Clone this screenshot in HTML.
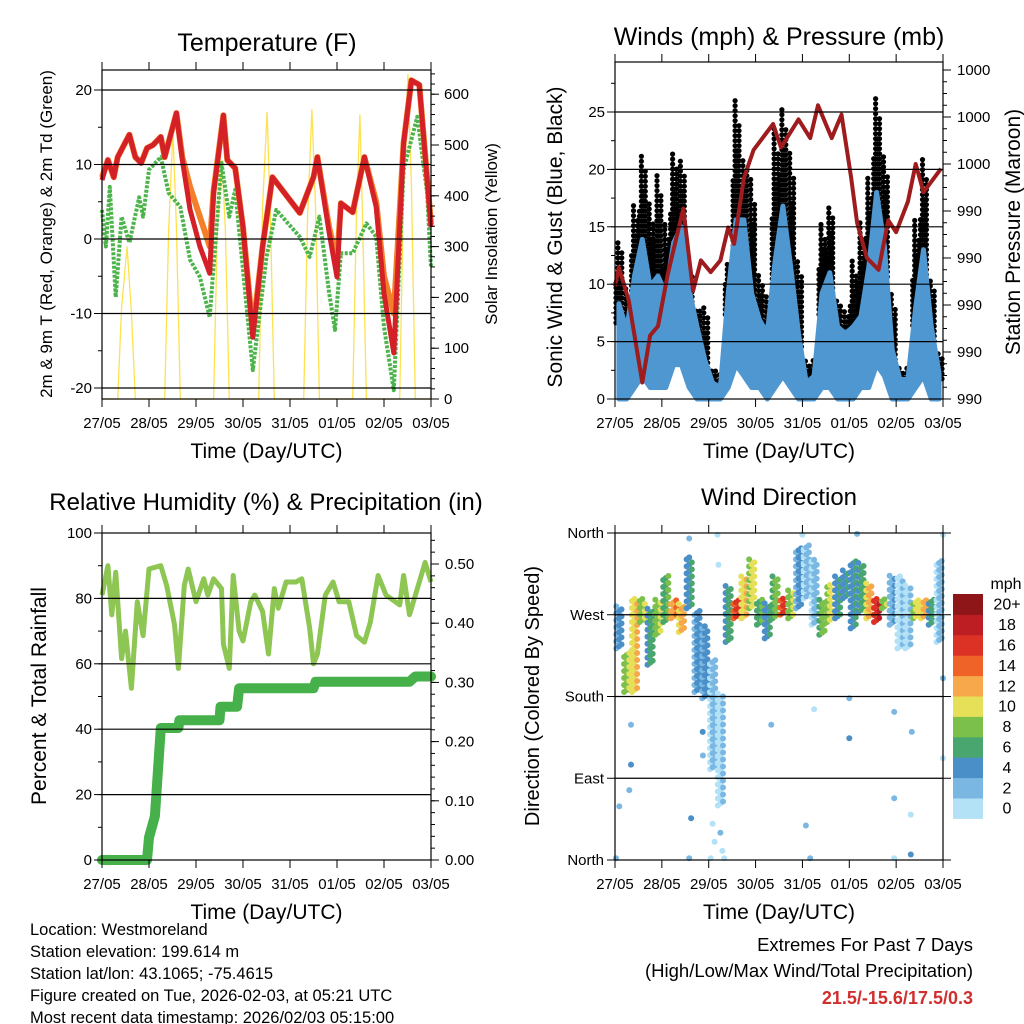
<!DOCTYPE html>
<html><head><meta charset="utf-8">
<style>
html,body{margin:0;padding:0;background:#fff;}
svg{display:block;font-family:"Liberation Sans",sans-serif;}
</style></head>
<body>
<svg id="chart" width="1024" height="1024" viewBox="0 0 1024 1024"></svg>
<script>
// ---------- DATA ----------
const dayLabels = ["27/05","28/05","29/05","30/05","31/05","01/05","02/05","03/05"];
// Temperature panel
const tHours = [0,3,6,8,14,17,20,23,26,30,32,38,41,45,50,55,57,62,64,68,72,77,82,87,101,108,110,116,120,122,128,134,140,144,149,154,158,162,168];
const tRed   = [7.9,10.6,8.3,11,14,11,10.2,12.2,12.6,13.7,11,16.9,10.6,3.9,-1,-4.6,6.2,16.6,10.6,9.5,1.6,-13.2,-1,8.3,3.5,8.3,11,0.8,-5.1,4.8,3.6,11,4.3,-7.3,-15.3,12.9,21.3,20.7,1.6];
const tOrange= [8.3,10.6,8.3,11,14,11,10.2,12.2,12.6,13.7,11,16.9,11,7,3,-1,6.5,16.6,10.6,9.5,1.6,-12.5,-1,8.3,3.5,8.3,11,1.5,-3,4.8,3.6,11,5,-5,-10,12.9,21.3,20.7,2];
const tdHours = [0,2,4,7,10,14,19,21,24,30,34,40,45,50,55,61,65,68,74,77,84,89,95,101,106,111,116,119,122,128,135,140,144,149,154,161,166,168];
const tdVals  = [3.9,-1,7,-7.8,3,-0.5,5.6,3,9.3,11,6.2,4.3,-2.8,-5.1,-10.5,10.2,3,6.6,-9.5,-17.6,-2.4,3.9,2.1,0.3,-2.4,3,-7.3,-12.2,-1.9,-1.9,2.1,0.3,-11.8,-20.3,9.3,16.4,6.2,-3.8];
const solarHours = [0,8,10,12.8,15,17,32,34,36.2,38,40,57,59,61.3,63,65,80,82,84.3,86,88,103,105,107.2,109,111,128,130,131.7,133,135,152,154,156.2,158,160,168];
const solarVals  = [0,0,180,300,170,0,0,330,527,340,0,0,350,470,330,0,0,380,565,360,0,0,360,570,380,0,0,380,560,360,0,0,420,640,420,0,0];
const tLeftTicks = [-20,-10,0,10,20];
const tRightTicks = [0,100,200,300,400,500,600];
// Winds panel (4-hour bins)
const windLo  = [0,0,1,2,1,1,1,3,3,1,0,0,0,0,1,3,2,1,1,0,1,2,1,0,0,0,1,1,0,0,0,1,1,3,2,0,0,0,1,2,0,0];
const windHi  = [8.3,6,10.7,13.9,9.8,10.7,9.2,13.6,15,9.5,6.3,3.4,1.4,1,9.2,15.6,15.6,9.2,6.9,5.7,12,16.8,11.5,5.7,1.4,2,9.2,11,6.3,5.7,6.3,7.2,11.5,18,13.3,4.3,1.7,1.7,8,13,6.3,2.2];
const gustMax = [13.9,9.8,17,21.4,17,19.7,15.6,21.7,20.8,11,8,8,2.8,2.5,12,26,21,19.4,11,9.2,23.7,25.2,21.4,12.1,3.4,3.4,15.6,17,8.6,8,12.1,15.6,19.4,26.4,21.4,9.2,2.8,2.8,15.6,21,10.7,4];
const presHours = [0,2,7,12,14,18,22,27,35,40,44,49,54,58,61,66,71,81,85,94,100,104,111,116,121,124,129,135,140,144,150,154,158,167];
const presVals  = [992.8,993.6,992.2,989.7,988.7,990.7,991.1,993.3,996.1,992.6,993.9,993.4,993.9,995.3,994.6,997.4,998.6,999.7,998.7,999.9,999.1,1000.5,999.1,1000.1,997.4,995.5,994.0,993.5,995.6,995.1,996.4,998.0,996.8,997.8];
const windLeftTicks = [0,5,10,15,20,25];
const presTickLabels = ["990","990","990","990","990","1000","1000","1000"];
// RH panel
const rhHours = [0,3,5,7,10,12,15,18,21,24,30,33,37,39,42,44,48,52,54,57,61,62,65,67,70,72,76,78,82,85,88,90,94,99,102,106,108,110,114,118,121,126,130,134,137,141,145,152,154,157,162,165,168];
const rhVals  = [81,90,75,88,61.6,70,52.5,79,68.6,89,90,84,72,58.6,84,89,79,86,81,86,83,66,58.6,87,70,67,79,81,76,63,83,77,85,85,86,71,60,63,81,85,79,79,68.6,66.6,72.7,87,81,78,87,75,85,91,85];
const rainHours = [0,23,24,27,30,39,39.5,60,60.5,69,70,108,109,157,160,168];
const rainVals  = [0,0,0.038,0.074,0.223,0.223,0.236,0.236,0.259,0.259,0.29,0.29,0.301,0.301,0.31,0.31];
const rhTicks = [0,20,40,60,80,100];
const rainTicks = [0,0.1,0.2,0.3,0.4,0.5];
// Wind direction panel (4-hour bins)
const dirLo = [233,185,185,262,215,248,262,266,251,277,185,178,100,60,240,266,266,277,259,244,266,270,266,277,288,259,248,262,266,288,255,273,266,262,277,259,233,233,266,266,259,240];
const dirHi = [281,229,288,288,277,288,314,288,284,335,277,259,222,185,303,288,314,332,288,284,314,288,299,346,349,332,288,303,314,321,332,328,306,288,288,314,314,303,288,288,288,332];
const dirSpd = [3,8,10,8,5,8,6,12,11,4,3,3,1,0,5,15,10,9,6,4,7,15,8,3,1,1,7,9,4,4,4,5,11,16,8,2,0,0,9,11,5,1];
const outHours = [8.2,8.2,7.3,2.2,38,52.5,53,44.9,45,39,80,96,97.8,102,120,120,124,143,143,151.5,151.5,152,168,168,168,49,56,38,0.5,100,143,50,51,54,55];
const outDeg   = [149,105,77,59,354,358,325,141,115,46,149,358,38,166,134,178,359,163,68,6,50,141,112,358,200,2,2,2,2,2,2,40,20,30,10];
const outSpd   = [2,3,1,1,1,0,0,3,1,3,2,0,2,0,3,1,2,2,1,3,0,2,0,0,1,0,0,2,1,1,0,0,0,1,0];
const dirTickDeg = [0,90,180,270,360];
const dirTickLabels = ["North","East","South","West","North"];
const legendLabels = ["0","2","4","6","8","10","12","14","16","18","20+"];
const speedColors = ["#b3e2f7","#7ab8e3","#4a8fc8","#4aa66f","#7cc04c","#e6e058","#f6a84a","#ef6329","#dc3226","#bd1e24","#8e1618"];

// ---------- HELPERS ----------
const NS = 'http://www.w3.org/2000/svg';
const svg = document.getElementById('chart');
function mk(tag, attrs, parent){
  const e = document.createElementNS(NS, tag);
  for (const k in attrs) e.setAttribute(k, attrs[k]);
  (parent || svg).appendChild(e);
  return e;
}
function txt(x, y, s, size, anchor, parent, rot){
  const t = mk('text', {x:x, y:y, 'font-size':size, 'text-anchor':anchor||'middle', fill:'#000'}, parent);
  if (rot) t.setAttribute('transform', 'rotate(' + rot + ' ' + x + ' ' + y + ')');
  t.textContent = s;
  return t;
}
function colorFor(s){ let i = Math.round(s/2); if (i>10) i=10; if (i<0) i=0; return speedColors[i]; }
function pts(xs, ys, fx, fy){ return xs.map((h,i)=>fx(h).toFixed(1)+','+fy(ys[i]).toFixed(1)).join(' '); }

function frame(g, x0, y0, x1, y1, name){
  const r = mk('rect', {x:x0, y:y0, width:x1-x0, height:y1-y0, fill:'none', stroke:'#000', 'stroke-width':1.2}, g);
  
  
  for (let d=0; d<=7; d++){
    const x = x0 + d*(x1-x0)/7;
    const tb = mk('line', {x1:x, y1:y1, x2:x, y2:y1+8, stroke:'#000', 'stroke-width':1}, g);
    
    
    const tt = mk('line', {x1:x, y1:y0, x2:x, y2:y0-8, stroke:'#000', 'stroke-width':1}, g);
    
    
    const lb = txt(x, y1+29, dayLabels[d], 15, 'middle', g);
    
    
  }
  const xt = txt((x0+x1)/2, y1+59, 'Time (Day/UTC)', 21, 'middle', g);
  
  
}
function yTick(g, x, y, side, len){
  const l = mk('line', {x1:x, y1:y, x2:x + (side<0?-len:len), y2:y, stroke:'#000', 'stroke-width':1}, g);
  
  
}
function gridLine(g, x0, x1, y){
  const l = mk('line', {x1:x0, y1:y, x2:x1, y2:y, stroke:'#000', 'stroke-width':1.2}, g);
  
  
}

// ---------- PANEL 1: TEMPERATURE ----------
(function(){
  const x0=102,x1=431,y0=70,y1=399;
  const g = mk('g', {});
  
  
  const fx = h => x0 + h/168*(x1-x0);
  const fT = t => 90 + (20-t)*7.45;
  const fS = v => y1 - v*0.508;
  const sol = mk('polyline', {points:pts(solarHours, solarVals, fx, fS), fill:'none', stroke:'#fde24f', 'stroke-width':1.3}, g);
  
  
  const td = mk('polyline', {points:pts(tdHours, tdVals, fx, fT), fill:'none', stroke:'#4cb44a', 'stroke-width':4, 'stroke-dasharray':'3,1.5', 'stroke-linejoin':'round'}, g);
  
  
  const or = mk('polyline', {points:pts(tHours, tOrange, fx, fT), fill:'none', stroke:'#f47f2a', 'stroke-width':6, 'stroke-linejoin':'round'}, g);
  
  
  const rd = mk('polyline', {points:pts(tHours, tRed, fx, fT), fill:'none', stroke:'#d42027', 'stroke-width':5, 'stroke-linejoin':'round'}, g);
  
  
  tLeftTicks.forEach(t=>{ gridLine(g, x0, x1, fT(t)); yTick(g, x0, fT(t), -1, 8);
    const lb = txt(x0-10, fT(t)+5, String(t), 15, 'end', g);
    
     });
  for (let t=-20; t<=22; t+=5) yTick(g, x0, fT(t), -1, 4);
  tRightTicks.forEach(v=>{ yTick(g, x1, fS(v), 1, 8);
    const lb = txt(x1+13, fS(v)+5, String(v), 15, 'start', g);
    
     });
  for (let v=0; v<=640; v+=20) yTick(g, x1, fS(v), 1, 4);
  frame(g, x0, y0, x1, y1, 'temperature');
  const ti = txt(267, 51, 'Temperature (F)', 25, 'middle', g);
  
  
  const lt = txt(52, 234, '2m & 9m T (Red, Orange) & 2m Td (Green)', 17, 'middle', g, -90);
  
  
  const rt = txt(497, 234, 'Solar Insolation (Yellow)', 17, 'middle', g, -90);
  
  
})();

// ---------- PANEL 2: WINDS ----------
(function(){
  const x0=615,x1=943,y0=62,y1=399;
  const g = mk('g', {});
  
  
  const fx = h => x0 + h/168*(x1-x0);
  const fW = w => y1 - w*11.48;
  const fP = p => y1 - (p-988)*23.5;
  const bw = (x1-x0)/windHi.length;
  const fracs = [0.35, 1.0, 0.6, 0.8];
  windHi.forEach((hi,i)=>{
    for (let s=0; s<4; s++){
      const cx = x0 + i*bw + (s+0.5)*bw/4;
      const top = fW(hi + (gustMax[i]-hi)*fracs[s]);
      for (let y=fW(hi*0.8); y>=top; y-=5){
        const d = mk('circle', {cx:cx.toFixed(1), cy:y.toFixed(1), r:2.6, fill:'#000'}, g);
        
        
      }
    }
  });
  const upper = windHi.map((v,i)=>(x0+(i+0.5)*bw).toFixed(1)+','+fW(v).toFixed(1));
  const lower = windLo.map((v,i)=>(x0+(i+0.5)*bw).toFixed(1)+','+fW(v).toFixed(1)).reverse();
  const band = mk('polygon', {points:upper.concat(lower).join(' '), fill:'#4f97d1', stroke:'#4f97d1', 'stroke-width':5, 'stroke-linejoin':'round'}, g);
  
  
  const pr = mk('polyline', {points:pts(presHours, presVals, fx, fP), fill:'none', stroke:'#9e1b1e', 'stroke-width':4, 'stroke-linejoin':'round'}, g);
  
  
  windLeftTicks.forEach(w=>{ if (w>0) gridLine(g, x0, x1, fW(w)); yTick(g, x0, fW(w), -1, 8);
    const lb = txt(x0-10, fW(w)+5, String(w), 15, 'end', g);
    
     });
  for (let w=0; w<=29; w+=2.5) yTick(g, x0, fW(w), -1, 4);
  presTickLabels.forEach((s,i)=>{ const y = y1 - i*47; yTick(g, x1, y, 1, 8);
    const lb = txt(x1+14, y+5, s, 15, 'start', g);
    
     });
  for (let y=y1; y>=y0; y-=11.75) yTick(g, x1, y, 1, 4);
  frame(g, x0, y0, x1, y1, 'winds');
  const ti = txt(779, 45, 'Winds (mph) & Pressure (mb)', 25, 'middle', g);
  
  
  const lt = txt(562, 237, 'Sonic Wind & Gust (Blue, Black)', 21, 'middle', g, -90);
  
  
  const rt = txt(1020, 232, 'Station Pressure (Maroon)', 21, 'middle', g, -90);
  
  
})();

// ---------- PANEL 3: RH & PRECIP ----------
(function(){
  const x0=102,x1=431,y0=533,y1=860;
  const g = mk('g', {});
  
  
  const fx = h => x0 + h/168*(x1-x0);
  const fR = r => y1 - r*3.27;
  const fP = p => y1 - p*592;
  const rh = mk('polyline', {points:pts(rhHours, rhVals, fx, fR), fill:'none', stroke:'#8dc653', 'stroke-width':5, 'stroke-linejoin':'round'}, g);
  
  
  const rn = mk('polyline', {points:pts(rainHours, rainVals, fx, fP), fill:'none', stroke:'#46b04a', 'stroke-width':10, 'stroke-linejoin':'round', 'stroke-linecap':'round'}, g);
  
  
  rhTicks.forEach(r=>{ if (r>0 && r<100) gridLine(g, x0, x1, fR(r)); yTick(g, x0, fR(r), -1, 8);
    const lb = txt(x0-10, fR(r)+5, String(r), 15, 'end', g);
    
     });
  for (let r=0; r<=100; r+=10) yTick(g, x0, fR(r), -1, 4);
  rainTicks.forEach(p=>{ yTick(g, x1, fP(p), 1, 8);
    const lb = txt(x1+14, fP(p)+5, p.toFixed(2), 15, 'start', g);
    
     });
  for (let p=0; p<=0.55; p+=0.02) yTick(g, x1, fP(p), 1, 4);
  frame(g, x0, y0, x1, y1, 'humidity');
  const ti = txt(266, 510, 'Relative Humidity (%) & Precipitation (in)', 24, 'middle', g);
  
  
  const lt = txt(46, 696, 'Percent & Total Rainfall', 21, 'middle', g, -90);
  
  
})();

// ---------- PANEL 4: WIND DIRECTION ----------
(function(){
  const x0=615,x1=943,y0=533,y1=860;
  const g = mk('g', {});
  
  
  const fx = h => x0 + h/168*(x1-x0);
  const fD = d => y1 - d*327/360;
  const bw = (x1-x0)/dirLo.length;
  outHours.forEach((h,i)=>{
    const d = mk('circle', {cx:fx(h).toFixed(1), cy:fD(outDeg[i]).toFixed(1), r:3, fill:colorFor(outSpd[i])}, g);
    
    
  });
  dirLo.forEach((lo,i)=>{
    for (let s=0; s<3; s++){
      const cx = x0 + i*bw + (s+0.5)*bw/3;
      const off = s*2;
      for (let y=fD(lo)-off; y>=fD(dirHi[i]); y-=7){
        const d = mk('circle', {cx:cx.toFixed(1), cy:y.toFixed(1), r:3, fill:colorFor(dirSpd[i] + (s-1))}, g);
        
        
      }
    }
  });
  dirTickDeg.forEach((d,i)=>{ if (d>0 && d<360) gridLine(g, x0, x1, fD(d)); yTick(g, x0, fD(d), -1, 8);
    const lb = txt(x0-11, fD(d)+5, dirTickLabels[i], 15, 'end', g);
    
     });
  dirTickDeg.forEach(d=>yTick(g, x1, fD(d), 1, 8));
  frame(g, x0, y0, x1, y1, 'wind-direction');
  const ti = txt(779, 505, 'Wind Direction', 24, 'middle', g);
  
  
  const lt = txt(539, 696, 'Direction (Colored By Speed)', 20, 'middle', g, -90);
  
  
  const lg = mk('g', {}, g);
  
  
  const mt = txt(1006, 589, 'mph', 16, 'middle', lg);
  
  
  const bh = 20.4, top = 594;
  legendLabels.forEach((s,i)=>{
    const k = legendLabels.length-1-i;
    const y = top + k*bh;
    const b = mk('rect', {x:953, y:y.toFixed(1), width:30, height:bh+0.5, fill:speedColors[i]}, lg);
    
    
    const t = txt(1007, y+bh/2+5.5, s, 16, 'middle', lg);
    
    
  });
})();

// ---------- FOOTER TEXT ----------
(function(){
  const g = mk('g', {});
  
  
  const lines = ["Location: Westmoreland","Station elevation: 199.614 m","Station lat/lon: 43.1065; -75.4615","Figure created on Tue, 2026-02-03, at 05:21 UTC","Most recent data timestamp: 2026/02/03 05:15:00"];
  lines.forEach((s,i)=>{ const t = txt(30, 935+i*22, s, 16.5, 'start', g);
    
     });
  const e1 = txt(973, 951, 'Extremes For Past 7 Days', 18.5, 'end', g);
  
  
  const e2 = txt(973, 977, '(High/Low/Max Wind/Total Precipitation)', 18.5, 'end', g);
  
  
  const e3 = txt(973, 1004, '21.5/-15.6/17.5/0.3', 18, 'end', g);
  e3.setAttribute('fill', '#d12e2e');
  e3.setAttribute('font-weight', 'bold');
  
  
})();
</script>
</body></html>
